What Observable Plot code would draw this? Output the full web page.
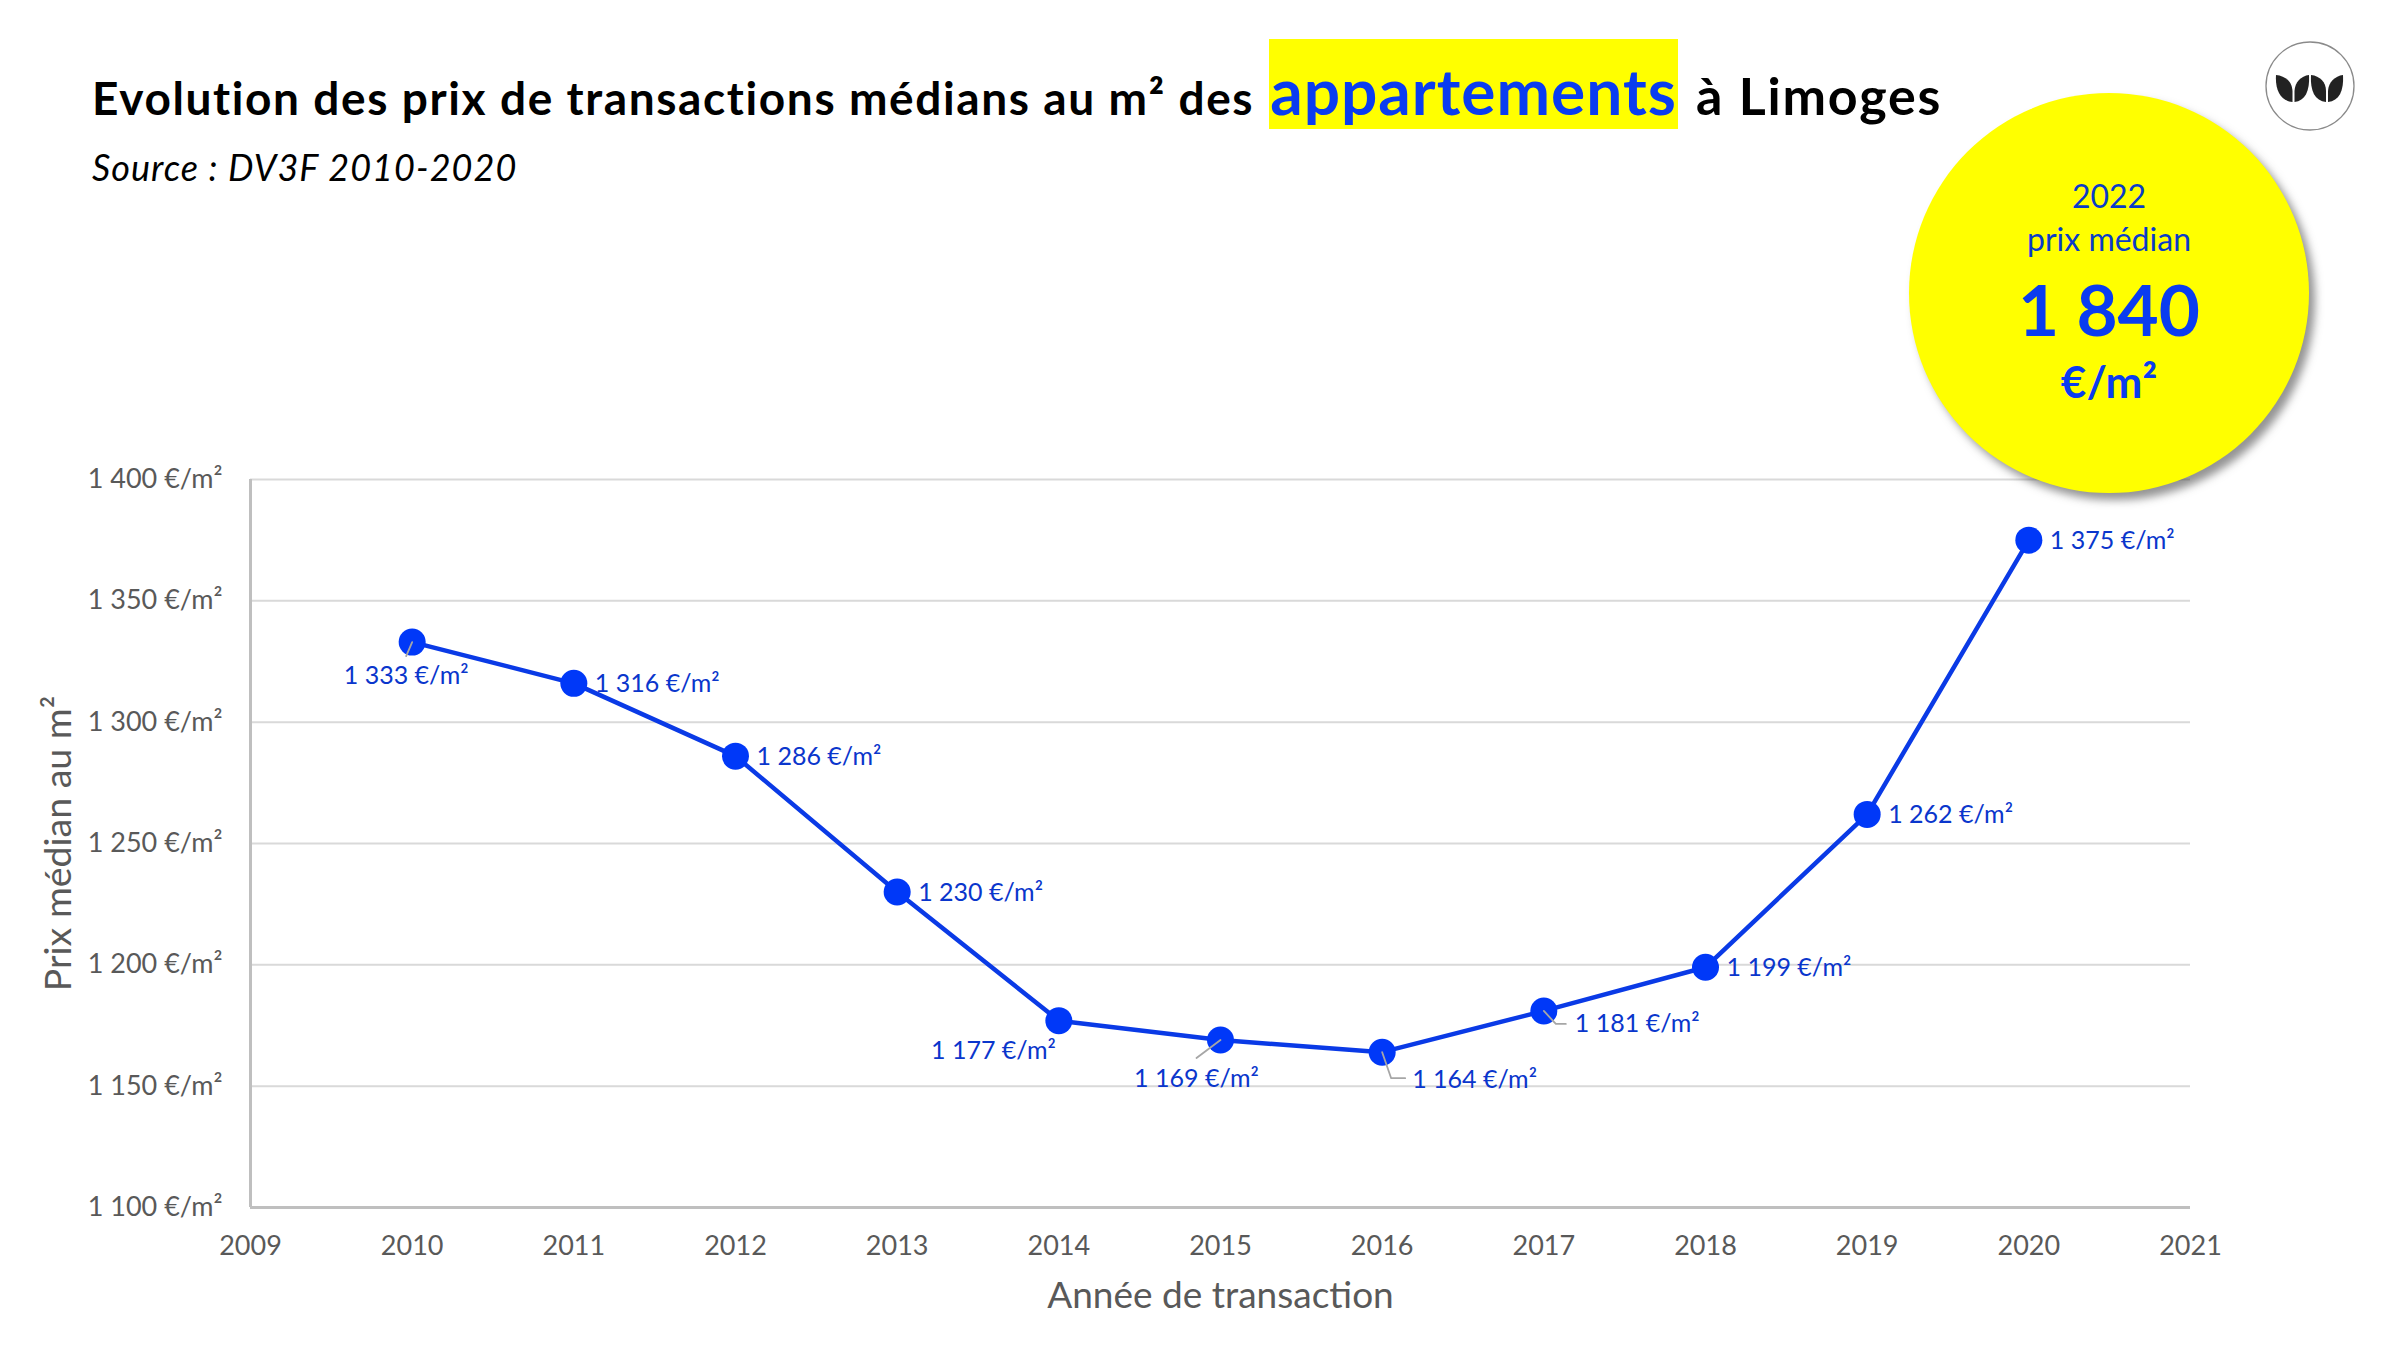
<!DOCTYPE html>
<html lang="fr">
<head>
<meta charset="utf-8">
<script src="https://cdn.jsdelivr.net/npm/d3@7"></script>
<script src="https://cdn.jsdelivr.net/npm/@observablehq/plot@0.6"></script>
<style>
html,body{margin:0;padding:0;background:#fff;width:2400px;height:1350px;overflow:hidden}
#page{position:relative;width:2400px;height:1350px;font-family:Lato,sans-serif}
#chart{position:absolute;left:0;top:0}
.t{position:absolute;white-space:nowrap;line-height:1}
#t1,#t3{font-weight:700;color:#000}
#t1{left:92px;top:75px;font-size:46px;letter-spacing:1.6px}
#t2{left:1269px;top:39px;width:409px;height:90px;background:#ff0;color:#0a3cf0;font-size:64px;font-weight:700;line-height:104px;text-align:center;letter-spacing:1px}
#t3{left:1696px;top:69px;font-size:52px;letter-spacing:1.8px}
#src{left:92px;top:149px;font-style:italic;font-size:36px;color:#000;letter-spacing:1.05px}
#bubble{position:absolute;left:1909px;top:93px;width:400px;height:400px;border-radius:50%;background:#ff0;box-shadow:6px 7px 9px rgba(60,60,60,.55)}
.b{position:absolute;left:0;width:400px;text-align:center;line-height:1;color:#0a3cc8}
#logo{position:absolute;left:2265px;top:41px}
</style>
</head>
<body>
<div id="page">
  <div id="chart"></div>
  <div class="t" id="t1"></div>
  <div class="t" id="t2"></div>
  <div class="t" id="t3"></div>
  <div class="t" id="src"></div>
  <div id="bubble">
    <div class="b" id="b1" style="top:87px;font-size:32px"></div>
    <div class="b" id="b2" style="top:130px;font-size:32px"></div>
    <div class="b" id="b3" style="top:180px;font-size:71px;font-weight:700;color:#0a3cf0"></div>
    <div class="b" id="b4" style="top:266px;font-size:44px;font-weight:700;color:#0a3cf0"></div>
  </div>
  <svg id="logo" width="90" height="90" viewBox="0 0 90 90">
    <circle cx="45" cy="45" r="44" fill="#fff" stroke="#8a8a8a" stroke-width="1.3"/>
    <g fill="#222">
      <path d="M11 34 C20 35 27 40 27.5 50 L27.5 61 C16 60 10 50 11 34Z"/>
      <path d="M44 34 C45 50 40 60 29.5 61 L29.5 50 C30 41 36 35 44 34Z"/>
      <path d="M46 34 C55 35 61 41 61 50 L61 61 C50 60 45 50 46 34Z"/>
      <path d="M78 34 C79 50 74 60 63 61 L63 50 C63.5 41 70 35 78 34Z"/>
    </g>
  </svg>
</div>
<script>
const years = [2010, 2011, 2012, 2013, 2014, 2015, 2016, 2017, 2018, 2019, 2020];
const prices = [1333, 1316, 1286, 1230, 1177, 1169, 1164, 1181, 1199, 1262, 1375];
const xTicks = [2009, 2010, 2011, 2012, 2013, 2014, 2015, 2016, 2017, 2018, 2019, 2020, 2021];
const yTicks = [1100, 1150, 1200, 1250, 1300, 1350, 1400];
const titleBefore = "Evolution des prix de transactions médians au m² des";
const titleHighlight = "appartements";
const titleAfter = "à Limoges";
const sourceText = "Source : DV3F 2010-2020";
const bubbleLines = ["2022", "prix médian", "1 840", "€/m²"];
const xLabel = "Année de transaction";
const yLabel = "Prix médian au m²";

document.getElementById("t1").textContent = titleBefore;
document.getElementById("t2").textContent = titleHighlight;
document.getElementById("t3").textContent = titleAfter;
document.getElementById("src").textContent = sourceText;
bubbleLines.forEach((s, i) => document.getElementById("b" + (i + 1)).textContent = s);

const fmt = v => String(v).replace(/^(\d)(\d{3})$/, "$1 $2") + " €/m²";
const rows = years.map((year, i) => ({year, price: prices[i]}));
const pick = (...ys) => rows.filter(d => ys.includes(d.year));

const BLUE = "#0a3ae6", DOT = "#0038f8", LABEL = "#0a36cc", GREY = "#595959", LEAD = "#a6a6a6";
const labelOpts = {x: "year", y: "price", text: d => fmt(d.price), fill: LABEL, fontSize: 25, letterSpacing: "-0.2px"};
const leader = (ys, pts) => Plot.vector(pick(...ys), {
  x: "year", y: "price", anchor: "start", length: 1, stroke: LEAD, strokeWidth: 1.8,
  shape: {draw(c) { c.moveTo(...pts[0]); pts.slice(1).forEach(p => c.lineTo(...p)); }}
});

const chart = Plot.plot({
  width: 2400, height: 1350,
  marginLeft: 250, marginRight: 210, marginTop: 479, marginBottom: 143,
  style: {fontFamily: "Lato, sans-serif", background: "transparent", overflow: "visible"},
  x: {domain: [2009, 2021]},
  y: {domain: [1100, 1400]},
  marks: [
    Plot.ruleY(yTicks.slice(1), {stroke: "#d9d9d9", strokeWidth: 2, strokeOpacity: 1}),
    Plot.ruleY([1100], {stroke: "#bfbfbf", strokeWidth: 3}),
    Plot.ruleX([2009], {stroke: "#bfbfbf", strokeWidth: 3}),
    Plot.axisX({ticks: xTicks, tickSize: 0, tickPadding: 28, tickFormat: String, label: null, fontSize: 27, fill: GREY, letterSpacing: "-0.6px"}),
    Plot.axisY({ticks: yTicks, tickSize: 0, tickPadding: 28, tickFormat: fmt, label: null, fontSize: 27, fill: GREY, letterSpacing: "-0.5px"}),
    Plot.axisX({ticks: [], tickSize: 0, label: xLabel, labelAnchor: "center", labelArrow: "none", labelOffset: 100, fontSize: 37, fill: GREY}),
    Plot.axisY({ticks: [], tickSize: 0, label: yLabel, labelAnchor: "center", labelArrow: "none", labelOffset: 206, fontSize: 37.5, fill: GREY}),
    Plot.line(rows, {x: "year", y: "price", stroke: BLUE, strokeWidth: 4.5}),
    Plot.dot(rows, {x: "year", y: "price", r: 13.5, fill: DOT}),
    leader([2010], [[0, 0], [-6, 14]]),
    leader([2015], [[0, 0], [-24, 18]]),
    leader([2016], [[0, 0], [9, 26], [23, 26]]),
    leader([2017], [[0, 0], [12, 13], [22, 13]]),
    Plot.text(pick(2011, 2012, 2013, 2018, 2019, 2020), {...labelOpts, textAnchor: "start", dx: 21, dy: 1}),
    Plot.text(pick(2010), {...labelOpts, textAnchor: "middle", dx: -6, dy: 34}),
    Plot.text(pick(2014), {...labelOpts, textAnchor: "end", dx: -3, dy: 30}),
    Plot.text(pick(2015), {...labelOpts, textAnchor: "middle", dx: -24, dy: 39}),
    Plot.text(pick(2016), {...labelOpts, textAnchor: "start", dx: 30, dy: 28}),
    Plot.text(pick(2017), {...labelOpts, textAnchor: "start", dx: 31, dy: 13})
  ]
});
document.getElementById("chart").appendChild(chart);
</script>
</body>
</html>
